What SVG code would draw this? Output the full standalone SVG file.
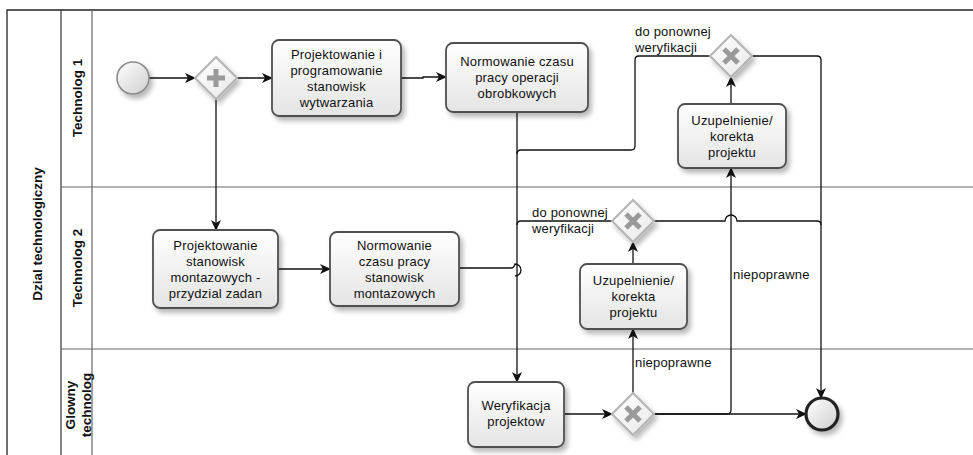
<svg xmlns="http://www.w3.org/2000/svg" width="973" height="455" viewBox="0 0 973 455">
<style>
text{font-family:"Liberation Sans",Arial,sans-serif;fill:#111;}
.t{font-size:13px;letter-spacing:0.2px;text-anchor:middle;}
.lbl{font-size:13px;letter-spacing:0.2px;}
.lane{font-size:13.5px;font-weight:bold;text-anchor:middle;}
.task{fill:url(#tg);stroke:#505050;stroke-width:1.8;filter:url(#sh);}
.gw{fill:url(#gg);stroke:#b4b4b4;stroke-width:2;filter:url(#sh);}
.mark{stroke:#9a9a9a;stroke-width:5;fill:none;}
.c{fill:none;stroke:#111;stroke-width:1.3;}
.ca{fill:none;stroke:#111;stroke-width:1.3;marker-end:url(#arr);}
.div{stroke:#666;stroke-width:1.2;}
</style>
<defs>
<linearGradient id="tg" x1="0" y1="0" x2="0" y2="1"><stop offset="0" stop-color="#ffffff"/><stop offset="1" stop-color="#e4e4e4"/></linearGradient>
<linearGradient id="gg" x1="0" y1="0" x2="1" y2="1"><stop offset="0" stop-color="#ffffff"/><stop offset="1" stop-color="#e8e8e8"/></linearGradient>
<linearGradient id="eg" x1="0" y1="0" x2="1" y2="1"><stop offset="0" stop-color="#ffffff"/><stop offset="1" stop-color="#cfcfcf"/></linearGradient>
<filter id="sh" x="-20%" y="-20%" width="150%" height="150%"><feDropShadow dx="3" dy="4" stdDeviation="2.5" flood-color="#000" flood-opacity="0.28"/></filter>
<marker id="arr" markerWidth="11" markerHeight="10" refX="10" refY="5" orient="auto" markerUnits="userSpaceOnUse"><path d="M0,0 L11,5 L0,10 L3,5 z" fill="#111"/></marker>
</defs>
<rect width="973" height="455" fill="#fff"/>
<g id="pool">
<path d="M973,10 H7 V455" fill="none" stroke="#222" stroke-width="1.3"/>
<line x1="61" y1="10" x2="61" y2="455" stroke="#333" stroke-width="1.2"/>
<line x1="92" y1="10" x2="92" y2="455" class="div"/>
<line x1="61" y1="187" x2="973" y2="187" class="div"/>
<line x1="61" y1="349" x2="973" y2="349" class="div"/>
<text class="lane" transform="translate(42,234) rotate(-90)">Dzial technologiczny</text>
<text class="lane" transform="translate(82,98) rotate(-90)">Technolog 1</text>
<text class="lane" transform="translate(82,268) rotate(-90)">Technolog 2</text>
<text class="lane" transform="translate(75,405) rotate(-90)">Glowny</text>
<text class="lane" transform="translate(91,405) rotate(-90)">technolog</text>
</g>
<g id="connectors">
<path class="ca" d="M149,78 H195"/>
<path class="ca" d="M237,78 H272"/>
<path class="ca" d="M216,99 V230"/>
<path class="ca" d="M401,78 H423 V77 H446"/>
<path class="ca" d="M517,112 V382"/>
<path class="ca" d="M278,269 H330"/>
<path class="c" d="M459,268 H511 Q514,268 515,264 A6,6 0 0 1 515,276"/>
<path class="ca" d="M564,414 H612"/>
<path class="ca" d="M654,414 H806"/>
<path class="ca" d="M633,393 V329"/>
<path class="ca" d="M654,414 H727 Q731,414 731,410 V168"/>
<path class="ca" d="M633,264 V242"/>
<path class="c" d="M612,221 H521 Q517,221 517,225"/>
<path class="c" d="M654,221 H725 A6,6 0 0 1 737,221 H817 Q821,221 821,225"/>
<path class="ca" d="M731,104 V77"/>
<path class="c" d="M710,56 H639 Q635,56 635,60 V146 Q635,150 631,150 H521 Q517,150 517,154"/>
<path class="ca" d="M752,56 H817 Q821,56 821,60 V398"/>
<text class="lbl" x="635" y="36">do ponownej</text>
<text class="lbl" x="635" y="52">weryfikacji</text>
<text class="lbl" x="532" y="217">do ponownej</text>
<text class="lbl" x="532" y="233">weryfikacji</text>
<text class="lbl" x="733" y="279">niepoprawne</text>
<text class="lbl" x="635" y="367">niepoprawne</text>
</g>
<g id="start">
<circle cx="133" cy="78" r="16" fill="url(#eg)" stroke="#8a8a8a" stroke-width="1.6" filter="url(#sh)"/>
</g>
<g id="gw_parallel">
<path class="gw" d="M216,57 L237,78 L216,99 L195,78 z"/>
<path class="mark" d="M216,69 V87 M207,78 H225"/>
</g>
<g id="task_projektowanie_wytw">
<rect class="task" x="272" y="40" width="129" height="76" rx="7"/>
<text class="t" x="336.5" y="58.5">Projektowanie i</text>
<text class="t" x="336.5" y="74.5">programowanie</text>
<text class="t" x="336.5" y="90.5">stanowisk</text>
<text class="t" x="336.5" y="106.5">wytwarzania</text>
</g>
<g id="task_normowanie_obr">
<rect class="task" x="446" y="43" width="142" height="69" rx="7"/>
<text class="t" x="517" y="66">Normowanie czasu</text>
<text class="t" x="517" y="82">pracy operacji</text>
<text class="t" x="517" y="98">obrobkowych</text>
</g>
<g id="gw_top">
<path class="gw" d="M731,35 L752,56 L731,77 L710,56 z"/>
<path class="mark" d="M724,49 L738,63 M738,49 L724,63"/>
</g>
<g id="task_uzup_top">
<rect class="task" x="678" y="104" width="108" height="64" rx="7"/>
<text class="t" x="732" y="124.5">Uzupelnienie/</text>
<text class="t" x="732" y="140.5">korekta</text>
<text class="t" x="732" y="156.5">projektu</text>
</g>
<g id="task_projektowanie_mont">
<rect class="task" x="153" y="230" width="125" height="78" rx="7"/>
<text class="t" x="215.5" y="249.5">Projektowanie</text>
<text class="t" x="215.5" y="265.5">stanowisk</text>
<text class="t" x="215.5" y="281.5">montazowych -</text>
<text class="t" x="215.5" y="297.5">przydzial zadan</text>
</g>
<g id="task_normowanie_mont">
<rect class="task" x="330" y="232" width="129" height="74" rx="7"/>
<text class="t" x="394.5" y="249.5">Normowanie</text>
<text class="t" x="394.5" y="265.5">czasu pracy</text>
<text class="t" x="394.5" y="281.5">stanowisk</text>
<text class="t" x="394.5" y="297.5">montazowych</text>
</g>
<g id="gw_mid">
<path class="gw" d="M633,200 L654,221 L633,242 L612,221 z"/>
<path class="mark" d="M626,214 L640,228 M640,214 L626,228"/>
</g>
<g id="task_uzup_mid">
<rect class="task" x="580" y="264" width="107" height="65" rx="7"/>
<text class="t" x="633.5" y="285">Uzupelnienie/</text>
<text class="t" x="633.5" y="301">korekta</text>
<text class="t" x="633.5" y="317">projektu</text>
</g>
<g id="task_weryfikacja">
<rect class="task" x="468" y="382" width="96" height="65" rx="7"/>
<text class="t" x="516" y="410">Weryfikacja</text>
<text class="t" x="516" y="426">projektow</text>
</g>
<g id="gw_bottom">
<path class="gw" d="M633,393 L654,414 L633,435 L612,414 z"/>
<path class="mark" d="M626,407 L640,421 M640,407 L626,421"/>
</g>
<g id="end">
<circle cx="822" cy="414" r="16" fill="url(#eg)" stroke="#222" stroke-width="3.2" filter="url(#sh)"/>
</g>
</svg>
